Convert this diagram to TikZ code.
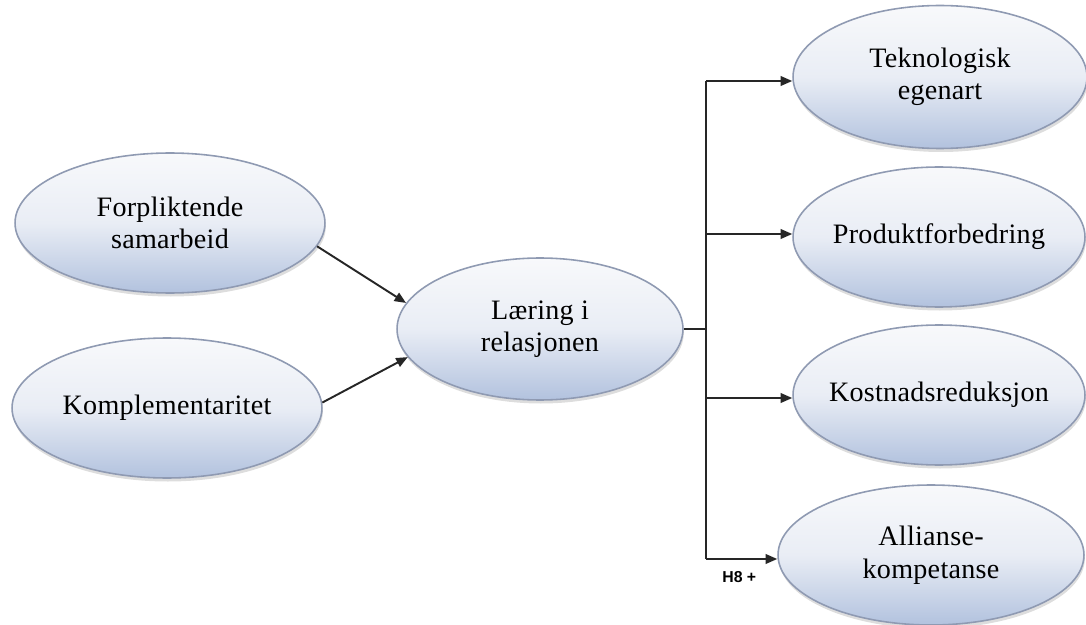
\documentclass[tikz,border=0pt]{standalone}
\usepackage{fontspec}
\setmainfont{Liberation Serif}
\newfontfamily\labelfont{Liberation Sans}
\newfontfamily\bubblefont[LetterSpace=1]{Liberation Serif}
\usetikzlibrary{shapes.geometric,arrows.meta,shadows}

\definecolor{bubbletop}{HTML}{F8F9FB}
\definecolor{bubblemid}{HTML}{E9EDF5}
\definecolor{bubblebot}{HTML}{B2C2DE}
\definecolor{bubbleline}{HTML}{8F9AB2}

\tikzset{
  bubble/.style={ellipse, draw=bubbleline, line width=0.9pt,
    top color=bubbletop, bottom color=bubblebot, middle color=bubblemid,
    align=center, inner xsep=-30pt, inner ysep=-10pt,
    font=\bubblefont\fontsize{16}{18.5}\selectfont,
    drop shadow={shadow xshift=0.5pt, shadow yshift=-2pt, opacity=0.22, fill=black!60}},
  link/.style={draw=black!85, line width=1.1pt},
  arrowlink/.style={link, -{Triangle[length=0.23cm,width=0.19cm]}}
}

\begin{document}
\begin{tikzpicture}[x=0.02cm, y=-0.02cm]
  \useasboundingbox (0,0) rectangle (1086,625);

  % left-hand inputs
  \node[bubble, minimum width=6.2cm, minimum height=2.8cm] (f) at (170,223)
    {Forpliktende\\samarbeid};
  \node[bubble, minimum width=6.2cm, minimum height=2.8cm] (k) at (167,408)
    {Komplementaritet};

  % central construct
  \node[bubble, minimum width=5.72cm, minimum height=2.84cm] (l) at (540,329)
    {L\ae ring i\\relasjonen};

  % right-hand outcomes
  \node[bubble, minimum width=5.88cm, minimum height=2.86cm] (t) at (940,77)
    {Teknologisk\\egenart};
  \node[bubble, minimum width=5.84cm, minimum height=2.8cm] (p) at (939,237)
    {Produktforbedring};
  \node[bubble, minimum width=5.84cm, minimum height=2.8cm] (c) at (939,395)
    {Kostnadsreduksjon};
  \node[bubble, minimum width=6.12cm, minimum height=2.8cm] (a) at (931,555)
    {Allianse-\\kompetanse};

  % inputs into the central construct
  \draw[arrowlink] (f.-9) -- (l.169);
  \draw[arrowlink] (k.2) -- (l.192);

  % distribution bus
  \coordinate (b1) at (706,81);
  \coordinate (b2) at (706,234);
  \coordinate (b3) at (706,398);
  \coordinate (b4) at (706,559);
  \draw[link] (l.east) -- (l.east -| b1);
  \draw[link] (b1) -- (b4);
  \draw[arrowlink] (b1) -- (b1 -| t.west);
  \draw[arrowlink] (b2) -- (b2 -| p.west);
  \draw[arrowlink] (b3) -- (b3 -| c.west);
  \draw[arrowlink] (b4) -- (b4 -| a.west);

  \node[font=\labelfont\bfseries\fontsize{9}{11}\selectfont, anchor=west,
    inner sep=0pt] (h8) at (722,577) {H8 +};
\end{tikzpicture}
\end{document}
